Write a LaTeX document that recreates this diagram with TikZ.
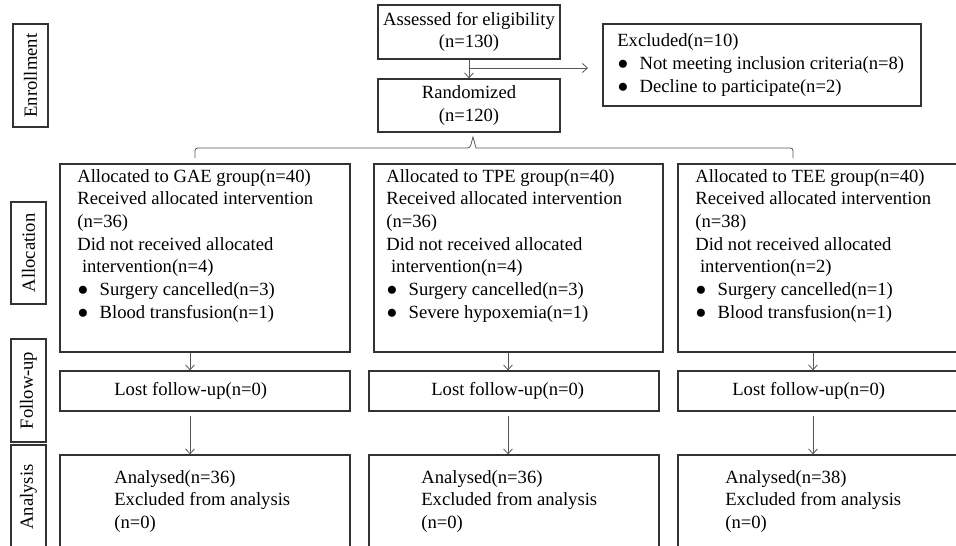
\documentclass[tikz,border=0pt]{standalone}
\usepackage{fontspec}
\setmainfont{Liberation Serif}
\usetikzlibrary{arrows.meta,positioning,fit,calc}
\definecolor{boxline}{HTML}{333333}
\definecolor{arrline}{HTML}{555555}

\tikzset{
  box/.style={draw=boxline, line width=0.7pt, inner sep=0pt},
  stage/.style={draw=boxline, line width=0.7pt, rotate=90, minimum height=0.7cm, inner sep=0pt},
  txt/.style={align=left, anchor=north west, inner sep=0pt},
  arr/.style={draw=arrline, line width=0.45pt, -{Straight Barb[length=1mm,width=1.8mm]}},
}
\newcommand{\dotitem}{\makebox[1.2em][l]{●}}

\begin{document}
\begin{tikzpicture}[x=0.02cm, y=-0.02cm, font=\fontsize{10.6pt}{12.9pt}\selectfont]
  \useasboundingbox (0,0) rectangle (956,545);
  \clip (0,0) rectangle (956,545);

  % stage labels on the left
  \node[stage, minimum width=2.06cm] (enroll) at (30.5,75.5) {Enrollment};
  \node[stage, minimum width=2.04cm] (alloc) at (28.5,253) {Allocation};
  \node[stage, minimum width=2.06cm] (follow) at (28.5,390.5) {Follow-up};
  \node[stage, minimum width=2.08cm] (analy) at (28.5,497) {Analysis};

  % enrollment
  \node[box, minimum width=3.64cm, minimum height=1.08cm, align=center] (assess) at (469,32) {Assessed for eligibility\\(n=130)};
  \node[box, minimum width=3.64cm, minimum height=1.06cm, align=center] (rand) at (469,105.5) {Randomized\\(n=120)};
  \node[box, fit={(603,24) (921,106)}] (excl) {};
  \node[txt, anchor=west] (excltxt) at (617,65) {Excluded(n=10)\\\dotitem Not meeting inclusion criteria(n=8)\\\dotitem Decline to participate(n=2)};
  \draw[arr] (assess) -- (rand);
  \coordinate (split) at (469,68);
  \coordinate (exclend) at (588,68);
  \draw[arr] (split) -- (exclend);

  % bracket to the three groups
  \coordinate (brl) at (195,158);
  \coordinate (brr) at (793,158);
  \draw[arrline, line width=0.45pt] (brl) [rounded corners=1.5pt] -- (195,148) -- (470,148) [sharp corners] -- (473,137) -- (476,148) [rounded corners=1.5pt] -- (793,148) -- (brr);

  % allocation
  \node[box, fit={(60,164) (350,352)}] (gae) {};
  \node[box, fit={(374,164) (663,352)}] (tpe) {};
  \node[box, fit={(678,164) (975,352)}] (tee) {};
  \node[txt] (gaetxt) at (77,169) {Allocated to GAE group(n=40)\\Received allocated intervention\\(n=36)\\Did not received allocated\\\hspace*{0.25em}intervention(n=4)\\\dotitem Surgery cancelled(n=3)\\\dotitem Blood transfusion(n=1)};
  \node[txt] (tpetxt) at (386,169) {Allocated to TPE group(n=40)\\Received allocated intervention\\(n=36)\\Did not received allocated\\\hspace*{0.25em}intervention(n=4)\\\dotitem Surgery cancelled(n=3)\\\dotitem Severe hypoxemia(n=1)};
  \node[txt] (teetxt) at (695,169) {Allocated to TEE group(n=40)\\Received allocated intervention\\(n=38)\\Did not received allocated\\\hspace*{0.25em}intervention(n=2)\\\dotitem Surgery cancelled(n=1)\\\dotitem Blood transfusion(n=1)};

  % follow-up
  \node[box, fit={(60,371) (350,411)}] (gaefu) {};
  \node[box, fit={(369,371) (659,411)}] (tpefu) {};
  \node[box, fit={(678,371) (975,411)}] (teefu) {};
  \node[txt, anchor=west] (gaefutxt) at (114,391) {Lost follow-up(n=0)};
  \node[txt, anchor=west] (tpefutxt) at (431,391) {Lost follow-up(n=0)};
  \node[txt, anchor=west] (teefutxt) at (732,391) {Lost follow-up(n=0)};

  % analysis
  \node[box, fit={(60,455) (350,570)}] (gaean) {};
  \node[box, fit={(369,455) (659,570)}] (tpean) {};
  \node[box, fit={(678,455) (975,570)}] (teean) {};
  \node[txt] (gaeantxt) at (114,470) {Analysed(n=36)\\Excluded from analysis\\(n=0)};
  \node[txt] (tpeantxt) at (421,470) {Analysed(n=36)\\Excluded from analysis\\(n=0)};
  \node[txt] (teeantxt) at (725,470) {Analysed(n=38)\\Excluded from analysis\\(n=0)};

  % arrows down each column
  \coordinate (xg) at (190,0);
  \coordinate (xp) at (508,0);
  \coordinate (xt) at (813,0);
  \draw[arr] (gae.south -| xg) -- (gaefu.north -| xg);
  \draw[arr] (tpe.south -| xp) -- (tpefu.north -| xp);
  \draw[arr] (tee.south -| xt) -- (teefu.north -| xt);
  \draw[arr] ($(gaefu.south -| xg)+(0,4)$) -- (gaean.north -| xg);
  \draw[arr] ($(tpefu.south -| xp)+(0,4)$) -- (tpean.north -| xp);
  \draw[arr] ($(teefu.south -| xt)+(0,4)$) -- (teean.north -| xt);
\end{tikzpicture}
\end{document}
